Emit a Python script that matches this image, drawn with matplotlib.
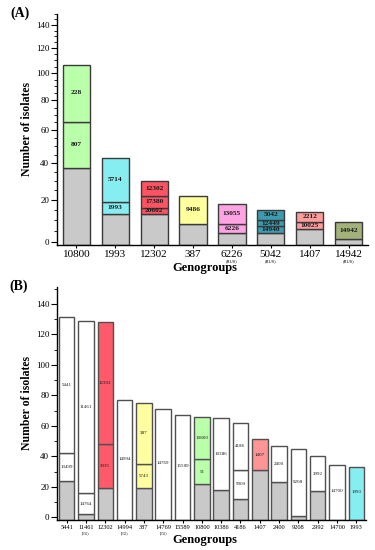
import numpy as np
import matplotlib
matplotlib.use("Agg")
import matplotlib.pyplot as plt
from matplotlib.ticker import MultipleLocator

plt.rcParams["font.family"] = ["Liberation Serif", "DejaVu Serif"]

# ---------------------------------------------------------------- data (A)
A_groups = ["10800", "1993", "12302", "387", "6226", "5042", "1407", "14942"]
A_sub = ["", "", "", "", "(RUS)", "(RUS)", "", "(RUS)"]
A_gray = [37, 13, 13, 8, 4, 4, 6, 1]
A_counts = [[28, 41], [6, 24], [3, 6, 8], [14], [4, 10], [3, 3, 5], [3, 5], [8]]
A_labels = [["807", "228"], ["1993", "5714"], ["20602", "17380", "12302"], ["9486"],
            ["6226", "13055"], ["14940", "12449", "5042"], ["10025", "2212"], ["14942"]]
A_colors = ["#baffaa", "#86eef0", "#ff5262", "#ffff9e", "#ffa3e2", "#3a9cae", "#ff9c9c", "#a3b27a"]

# ---------------------------------------------------------------- data (B)
B_groups = ["5441", "11461", "12302", "14994", "387", "14769", "15589", "10800",
            "10386", "4186", "1407", "2400", "9208", "2992", "14700", "1993"]
B_sub = ["", "(EU)", "", "(EU)", "", "(EU)", "", "", "", "", "", "", "", "", "", ""]
B_gray = [24, 2, 19, 0, 19, 0, 0, 22, 18, 12, 31, 23, 1, 17, 0, 0]
B_counts = [[18, 89], [14, 113], [29, 80], [77], [16, 40], [71], [67], [16, 28],
            [47], [19, 31], [20], [24], [44], [23], [34], [33]]
B_labels = [["13499", "5441"], ["14764", "11461"], ["3935", "12302"], ["14994"],
            ["5743", "387"], ["14769"], ["15589"], ["51", "10800"], ["10386"],
            ["9909", "4186"], ["1407"], ["2400"], ["9208"], ["2992"], ["14700"], ["1993"]]
B_colors = ["white", "white", "#ff5a6a", "white", "#ffffa2", "white", "white", "#baffaa",
            "white", "white", "#ff9494", "white", "white", "white", "white", "#86eef0"]

GRAY = "#c9c9c9"


def stacked(ax, gray, counts, labels, colors, ymin, width, ec, lw, fs, fw):
    for i in range(len(gray)):
        bottom = ymin
        if gray[i] > 0:
            ax.bar(i, gray[i] - ymin, bottom=ymin, width=width, color=GRAY, edgecolor=ec, lw=lw)
            bottom = gray[i]
        for c, lab in zip(counts[i], labels[i]):
            start = bottom
            top = max(bottom, 0) + c
            ax.bar(i, top - start, bottom=start, width=width, color=colors[i], edgecolor=ec, lw=lw)
            ax.text(i, (max(start, 0) + top) / 2, lab, ha="center", va="center",
                    fontsize=fs, fontweight=fw, color="#1a1a1a")
            bottom = top


def style(ax, groups, subs, fs, sfs, sub_off):
    ax.spines[["top", "right"]].set_visible(False)
    ax.spines["left"].set_linewidth(1.0)
    ax.spines["bottom"].set_linewidth(1.0)
    ax.set_xticks(range(len(groups)))
    ax.set_xticklabels(groups, fontsize=fs)
    ax.tick_params(axis="x", length=2, pad=1.5)
    ax.yaxis.set_major_locator(MultipleLocator(20))
    ax.tick_params(axis="y", which="major", length=4, labelsize=6.5, pad=1.5)
    ax.tick_params(axis="y", which="minor", length=2)
    ax.set_xlim(-0.5, len(groups) - 0.5)
    for i, s in enumerate(subs):
        if s:
            ax.annotate(s, (i, 0), xycoords=("data", "axes fraction"), xytext=(0, sub_off),
                        textcoords="offset points", ha="center", va="top", fontsize=sfs)


fig = plt.figure(figsize=(3.75, 5.5), dpi=100)
W, H = 375, 550

# ---------------------------------------------------------------- panel A
axA = fig.add_axes([57 / W, 1 - 245 / H, (368 - 57) / W, (245 - 14) / H])
axA.set_yscale("function", functions=(lambda y: np.log((np.asarray(y) + 140) / 140),
                                      lambda u: 140 * np.exp(u) - 140))
YA = -1.5
axA.set_ylim(YA, 150)
stacked(axA, A_gray, A_counts, A_labels, A_colors, YA, 0.7, "#3a3a3a", 1.0, 5.3, "bold")
style(axA, A_groups, A_sub, 8, 3.2, -10)
axA.set_yticks(range(0, 141, 20))
axA.yaxis.set_minor_locator(MultipleLocator(5))
axA.set_ylabel("Number of isolates", fontsize=8.5, fontweight="bold")
axA.yaxis.set_label_coords(-0.077, 0.5)

# ---------------------------------------------------------------- panel B
axB = fig.add_axes([57 / W, 1 - 520 / H, (366 - 57) / W, (520 - 287) / H])
YB = -1.8
axB.set_ylim(YB, 151)
stacked(axB, B_gray, B_counts, B_labels, B_colors, YB, 0.8, "#505050", 1.0, 3.6, "normal")
style(axB, B_groups, B_sub, 4.6, 2.8, -8)
axB.set_yticks(range(0, 141, 20))
axB.yaxis.set_minor_locator(MultipleLocator(10))
axB.set_ylabel("Number of isolates", fontsize=8.5, fontweight="bold")
axB.yaxis.set_label_coords(-0.077, 0.5)

fig.text(205 / W, 1 - 268 / H, "Genogroups", ha="center", va="center", fontsize=9, fontweight="bold")
fig.text(205 / W, 1 - 540 / H, "Genogroups", ha="center", va="center", fontsize=9, fontweight="bold")
fig.text(10 / W, 1 - 13 / H, "(A)", ha="left", va="center", fontsize=10, fontweight="bold")
fig.text(9 / W, 1 - 286 / H, "(B)", ha="left", va="center", fontsize=10, fontweight="bold")

fig.savefig("out.png", dpi=100)
